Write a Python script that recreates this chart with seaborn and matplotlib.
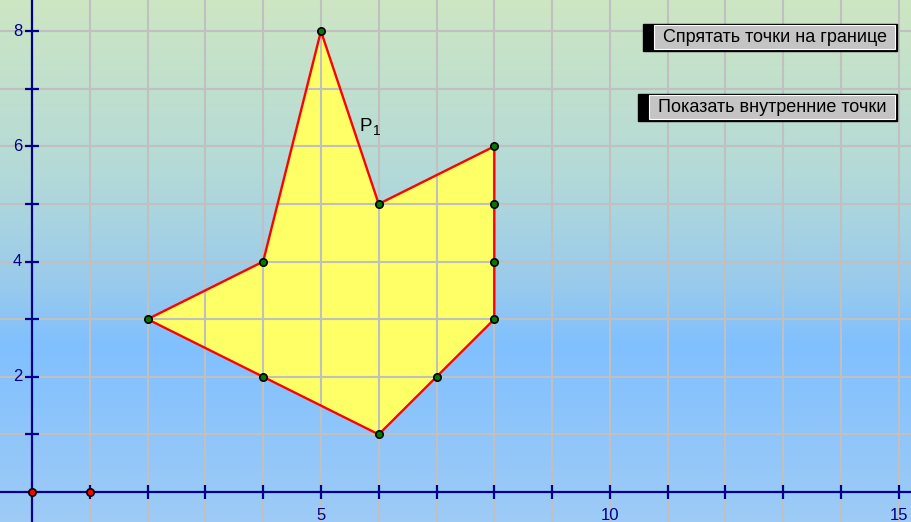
import numpy as np
import pandas as pd
import matplotlib
matplotlib.use("Agg")
import matplotlib.pyplot as plt
import seaborn as sns
from matplotlib.colors import LinearSegmentedColormap
from matplotlib.patches import Rectangle

# polygon P1 vertices (in order)
poly_x = [5, 6, 8, 8, 6, 2, 4]
poly_y = [8, 5, 6, 3, 1, 3, 4]
# extra lattice points on the boundary
edge_x = [8, 8, 7, 4]
edge_y = [5, 4, 2, 2]
# red points on the x axis
red_x = [0, 1]
red_y = [0, 0]

x_labels = [5, 10, 15]
y_labels = [2, 4, 6, 8]
buttons = ["Спрятать точки на границе", "Показать внутренние точки"]

XMIN, XMAX = -0.553, 15.21
YMIN, YMAX = -0.52, 8.54
navy = "#000088"

plt.rcParams["font.family"] = ["Liberation Sans", "DejaVu Sans"]

fig = plt.figure(figsize=(9.11, 5.22), dpi=100)
ax = fig.add_axes([0, 0, 1, 1])
ax.set_xlim(XMIN, XMAX)
ax.set_ylim(YMIN, YMAX)
ax.axis("off")

# background gradient
bg = LinearSegmentedColormap.from_list("bg", [
    (0.0, "#cde6c3"), (0.33, "#b4dad8"), (0.55, "#98caec"),
    (0.66, "#80c0ff"), (1.0, "#9ecbf6")])
grad = np.linspace(0, 1, 256).reshape(-1, 1)
ax.imshow(grad, cmap=bg, aspect="auto", extent=[XMIN, XMAX, YMIN, YMAX],
          origin="upper", zorder=0)

# polygon fill
ax.fill(poly_x, poly_y, color="#ffff66", zorder=1)

# grid
for gx in range(0, 16):
    ax.axvline(gx, color="#c0c0c0", lw=1.5, zorder=2)
for gy in range(0, 9):
    ax.axhline(gy, color="#c0c0c0", lw=1.5, zorder=2)

# axes
ax.axhline(0, color=navy, lw=1.6, zorder=3)
ax.axvline(0, color=navy, lw=1.6, zorder=3)
xt = np.arange(1, 16)
yt = np.arange(1, 9)
ax.plot(xt, np.zeros_like(xt), ls="none", marker="|", ms=9.5, mew=1.6,
        color=navy, zorder=3)
ax.plot(np.zeros_like(yt), yt, ls="none", marker="_", ms=9.5, mew=1.6,
        color=navy, zorder=3)
for v in x_labels:
    ax.text(v, -0.4, str(v), ha="center", va="center", color=navy,
            fontsize=12, zorder=3)
for v in y_labels:
    ax.text(-0.17, v, str(v), ha="right", va="center", color=navy,
            fontsize=12, zorder=3)

# polygon outline
outline = pd.DataFrame({"x": poly_x + poly_x[:1], "y": poly_y + poly_y[:1]})
sns.lineplot(data=outline, x="x", y="y", sort=False, estimator=None,
             color="#ff0000", lw=1.7, ax=ax, zorder=4)

# points
pts = pd.DataFrame({"x": poly_x + edge_x, "y": poly_y + edge_y})
sns.scatterplot(data=pts, x="x", y="y", color="#007a00", edgecolor="black",
                s=28, linewidth=1.2, ax=ax, zorder=5)
sns.scatterplot(x=red_x, y=red_y, color="#ff0000", edgecolor="black",
                s=28, linewidth=1.2, ax=ax, zorder=5)
ax.set_xlim(XMIN, XMAX)
ax.set_ylim(YMIN, YMAX)
ax.axis("off")

ax.text(5.67, 6.345, "P", fontsize=13.5, ha="left", va="center", zorder=6)
ax.text(5.9, 6.26, "1", fontsize=10, ha="left", va="center", zorder=6)

# buttons (pixel coords: x0, x_inner, x1, top, bottom)
W, H = 911, 522
boxes = [(643, 653, 897, 24, 51), (638, 648, 897, 94, 121)]
for (x0, xi, x1, t, b), label in zip(boxes, buttons):
    fig.add_artist(Rectangle((x0 / W, 1 - b / H), (x1 - x0) / W, (b - t) / H,
                             transform=fig.transFigure, facecolor="black",
                             edgecolor="black", zorder=10))
    fig.add_artist(Rectangle(((xi + 1) / W, 1 - (b - 2) / H), (x1 - xi - 3) / W,
                             (b - t - 3) / H, transform=fig.transFigure,
                             facecolor="#c4c4c4", edgecolor="white", lw=0.8,
                             zorder=11))
    fig.text((xi + x1) / 2 / W, 1 - (t + b) / 2 / H, label, ha="center",
             va="center", fontsize=13, color="black", zorder=12)

fig.savefig("out.png", dpi=100)
